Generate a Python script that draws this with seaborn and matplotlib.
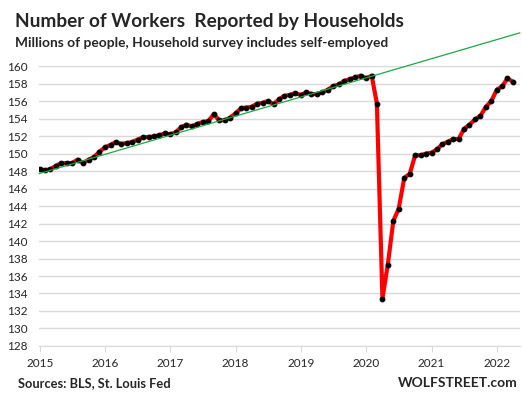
import numpy as np
import pandas as pd
import matplotlib
matplotlib.use("Agg")
import matplotlib.pyplot as plt
import matplotlib.dates as mdates
import seaborn as sns

# monthly household-survey employment, millions (Jan 2015 .. Apr 2022)
workers = [
    148.2, 148.1, 148.2, 148.6, 148.9, 148.9, 148.9, 149.3, 148.9, 149.3, 149.6, 150.2,
    150.7, 151.0, 151.3, 151.1, 151.2, 151.3, 151.6, 151.85, 151.9, 151.95, 152.1, 152.3,
    152.2, 152.45, 153.0, 153.3, 153.1, 153.4, 153.6, 153.7, 154.5, 153.8, 153.8, 154.1,
    154.6, 155.2, 155.25, 155.35, 155.7, 155.8, 156.0, 155.65, 156.2, 156.6, 156.7, 156.9,
    156.7, 157.0, 156.8, 156.8, 157.0, 157.3, 157.7, 157.9, 158.3, 158.5, 158.7, 158.9,
    158.6, 158.9, 155.7, 133.4, 137.3, 142.3, 143.7, 147.2, 147.7, 149.8, 149.8, 150.0,
    150.1, 150.5, 151.05, 151.35, 151.65, 151.65, 152.8, 153.3, 153.9, 154.3, 155.35, 156.0,
    157.3, 157.7, 158.6, 158.2,
]
months = pd.date_range("2015-01-01", periods=len(workers), freq="MS")

# pre-pandemic trend line
trend_dates = pd.to_datetime(["2014-12-28", "2022-05-10"])
trend_vals = [147.7, 163.8]

year_ticks = pd.to_datetime([f"{y}-01-01" for y in range(2015, 2023)])
year_labels = [str(y) for y in range(2015, 2023)]
y_ticks = list(range(128, 161, 2))

sns.set_style("white")
plt.rcParams["font.family"] = ["Lato", "DejaVu Sans"]

fig = plt.figure(figsize=(5.22, 3.98), dpi=100)
ax = fig.add_axes([0.0747, 0.1307, 0.9213, 0.7033])

df = pd.DataFrame({"month": months, "workers": workers})
sns.lineplot(data=df, x="month", y="workers", ax=ax, color="#FF0000", lw=3.0,
             marker="o", markersize=3.4, markerfacecolor="black",
             markeredgecolor="black", zorder=3)
sns.lineplot(x=trend_dates, y=trend_vals, ax=ax, color="#1DA843", lw=0.9,
             zorder=4, clip_on=False)

ax.set_ylim(128, 160)
ax.set_xlim(pd.Timestamp("2014-12-28"), pd.Timestamp("2022-05-10"))
ax.set_yticks(y_ticks)
ax.set_yticklabels([str(v) for v in y_ticks], fontsize=8.5, color="#262626")
ax.set_xticks(year_ticks)
ax.set_xticklabels(year_labels, fontsize=8.5, color="#262626")
ax.grid(axis="y", color="#D9D9D9", lw=1)
ax.set_axisbelow(True)
for s in ["top", "right", "left"]:
    ax.spines[s].set_visible(False)
ax.spines["bottom"].set_color("#D9D9D9")
ax.tick_params(axis="x", length=4, color="#D9D9D9", pad=5, bottom=True)
ax.tick_params(axis="y", length=0, pad=8)
ax.set_xlabel("")
ax.set_ylabel("")

fig.text(0.029, 0.945, "Number of Workers  Reported by Households", fontsize=13.7,
         fontweight="bold", va="center", ha="left")
fig.text(0.029, 0.893, "Millions of people, Household survey includes self-employed",
         fontsize=9.9, fontweight="bold", va="center", ha="left")
fig.text(0.034, 0.038, "Sources: BLS, St. Louis Fed", fontsize=9.3,
         fontweight="bold", va="center", ha="left")
fig.text(0.991, 0.038, "WOLFSTREET.com", fontsize=10, fontweight="bold",
         va="center", ha="right")

fig.savefig("out.png", dpi=100)
